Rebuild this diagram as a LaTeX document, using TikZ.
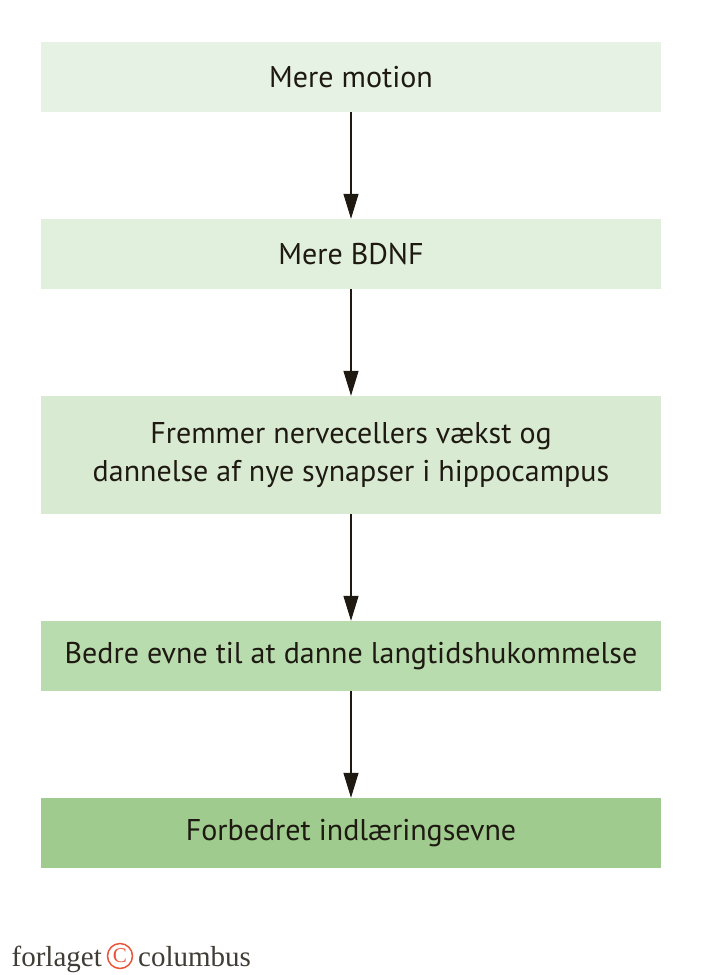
\documentclass[tikz,border=0pt]{standalone}
\usepackage{fontspec}
\setmainfont{PT Sans}
\newfontfamily\logofont{Liberation Serif}
\usetikzlibrary{arrows.meta}
\definecolor{cA}{HTML}{E6F2E3}
\definecolor{cB}{HTML}{E1EFDD}
\definecolor{cC}{HTML}{D9EAD3}
\definecolor{cD}{HTML}{B9DCAF}
\definecolor{cE}{HTML}{9FCB8E}
\definecolor{ink}{HTML}{1E1A12}
\definecolor{logoC}{HTML}{E8553A}
\begin{document}
\begin{tikzpicture}[x=1pt,y=-1pt,
  box/.style={minimum width=620pt,inner sep=0pt,align=center,text=ink,font=\fontsize{30}{38}\selectfont},
  conn/.style={draw=ink,line width=1.2pt,-{Triangle[length=25pt,width=15pt]}}]
\useasboundingbox[fill=white] (0,0) rectangle (706,975);
\node[box,fill=cA,minimum height=70pt] (b1) at (351,77) {Mere motion};
\node[box,fill=cB,minimum height=70pt] (b2) at (351,254) {Mere BDNF};
\node[box,fill=cC,minimum height=118pt] (b3) at (351,455) {Fremmer nervecellers vækst og\\dannelse af nye synapser i hippocampus};
\node[box,fill=cD,minimum height=70pt] (b4) at (351,656) {Bedre evne til at danne langtidshukommelse};
\node[box,fill=cE,minimum height=70pt] (b5) at (351,833) {Forbedret indlæringsevne};
\draw[conn] (b1) -- (b2);
\draw[conn] (b2) -- (b3);
\draw[conn] (b3) -- (b4);
\draw[conn] (b4) -- (b5);
\node[anchor=base east,inner sep=0pt,text=ink!85,font=\logofont\fontsize{29}{29}\selectfont] (logo1) at (102,966) {forlaget};
\node[circle,draw=logoC,line width=1.5pt,minimum size=25pt,inner sep=0pt,text=logoC,font=\logofont\fontsize{21}{21}\selectfont] (logoc) at (120,956) {C};
\node[anchor=base west,inner sep=0pt,text=ink!85,font=\logofont\fontsize{29}{29}\selectfont] (logo2) at (138,966) {columbus};
\end{tikzpicture}
\end{document}
